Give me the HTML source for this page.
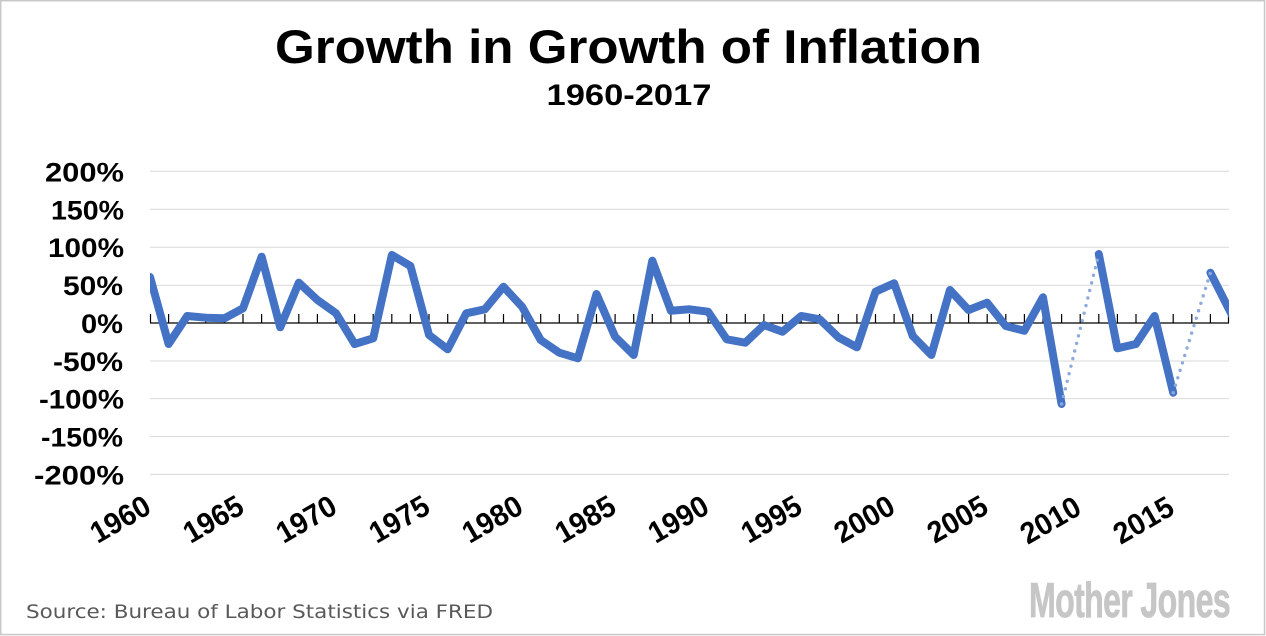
<!DOCTYPE html>
<html>
<head>
<meta charset="utf-8">
<style>
  html, body { margin: 0; padding: 0; background: #ffffff; }
  body { width: 1266px; height: 636px; overflow: hidden; }
  svg { display: block; }
</style>
</head>
<body>
<svg width="1266" height="636" viewBox="0 0 1266 636" xmlns="http://www.w3.org/2000/svg">
  <rect x="0" y="0" width="1266" height="636" fill="#ffffff"/>
  <rect x="0.75" y="0.75" width="1263.8" height="633.8" fill="none" stroke="#c8c8c8" stroke-width="1.5"/>

  <!-- Title -->
  <text x="628.5" y="63" text-anchor="middle" font-family="Liberation Sans, sans-serif" font-weight="bold" font-size="47" fill="#000" textLength="707" lengthAdjust="spacingAndGlyphs">Growth in Growth of Inflation</text>
  <text x="629" y="105" text-anchor="middle" font-family="Liberation Sans, sans-serif" font-weight="bold" font-size="30" fill="#000" textLength="165" lengthAdjust="spacingAndGlyphs">1960-2017</text>

  <!-- Gridlines -->
  <g stroke="#d9d9d9" stroke-width="1">
    <line x1="150" y1="171.3" x2="1229" y2="171.3"/>
    <line x1="150" y1="209.3" x2="1229" y2="209.3"/>
    <line x1="150" y1="247.2" x2="1229" y2="247.2"/>
    <line x1="150" y1="285.2" x2="1229" y2="285.2"/>
    <line x1="150" y1="361" x2="1229" y2="361"/>
    <line x1="150" y1="398.6" x2="1229" y2="398.6"/>
    <line x1="150" y1="436.5" x2="1229" y2="436.5"/>
    <line x1="150" y1="474.4" x2="1229" y2="474.4"/>
  </g>

  <!-- Y labels -->
  <g font-family="Liberation Sans, sans-serif" font-weight="bold" font-size="27" fill="#000" text-anchor="end">
    <text x="124" y="181.3" textLength="79" lengthAdjust="spacingAndGlyphs">200%</text>
    <text x="124" y="219.3" textLength="73" lengthAdjust="spacingAndGlyphs">150%</text>
    <text x="124" y="257.2" textLength="76" lengthAdjust="spacingAndGlyphs">100%</text>
    <text x="123" y="295.2" textLength="60" lengthAdjust="spacingAndGlyphs">50%</text>
    <text x="123" y="333" textLength="42" lengthAdjust="spacingAndGlyphs">0%</text>
    <text x="123" y="371" textLength="70" lengthAdjust="spacingAndGlyphs">-50%</text>
    <text x="124" y="408.6" textLength="85" lengthAdjust="spacingAndGlyphs">-100%</text>
    <text x="123" y="446.5" textLength="82" lengthAdjust="spacingAndGlyphs">-150%</text>
    <text x="124" y="484.4" textLength="90" lengthAdjust="spacingAndGlyphs">-200%</text>
  </g>

  <!-- Zero axis + ticks -->
  <line x1="150" y1="323" x2="1229" y2="323" stroke="#000" stroke-width="1.3"/>
  <path stroke="#000" stroke-width="1.2" fill="none" d="
    M150.5 314V323 M168.6 314V323 M187.2 314V323 M205.8 314V323 M224.4 314V323 M243 314V323
    M261.6 314V323 M280.2 314V323 M298.8 314V323 M317.4 314V323 M336 314V323 M354.6 314V323
    M373.2 314V323 M391.8 314V323 M410.4 314V323 M429 314V323 M447.7 314V323 M466.3 314V323
    M484.9 314V323 M503.5 314V323 M522.1 314V323 M540.7 314V323 M559.3 314V323 M577.9 314V323
    M596.5 314V323 M615.1 314V323 M633.7 314V323 M652.3 314V323 M670.9 314V323 M689.5 314V323
    M708.1 314V323 M726.7 314V323 M745.3 314V323 M763.9 314V323 M782.5 314V323 M801.1 314V323
    M819.7 314V323 M838.3 314V323 M856.9 314V323 M875.5 314V323 M894.1 314V323 M912.7 314V323
    M931.3 314V323 M950 314V323 M968.6 314V323 M987.2 314V323 M1005.8 314V323 M1024.4 314V323
    M1043 314V323 M1061.6 314V323 M1080.2 314V323 M1098.8 314V323 M1117.4 314V323 M1136 314V323
    M1154.6 314V323 M1173.2 314V323 M1191.8 314V323 M1210.4 314V323 M1228.5 314V323"/>

  <!-- Series -->
  <defs>
    <clipPath id="plot"><rect x="150" y="150" width="1079" height="340"/></clipPath>
  </defs>
  <g clip-path="url(#plot)" fill="none">
    <g stroke="#4472C4" stroke-width="8" stroke-linejoin="round" stroke-linecap="round">
      <polyline points="150,277 168.6,344 187.21,316 205.81,317.7 224.41,318.3 243.02,308.3 261.62,256.7 280.22,327.3 298.83,282.7 317.43,300 336.03,313.3 354.64,344 373.24,338.3 391.84,255 410.45,266 429.05,335 447.66,349.3 466.26,313.3 484.86,309.3 503.47,286.7 522.07,306.7 540.67,340 559.28,352.7 577.88,358.3 596.48,294 615.09,336.7 633.69,355 652.29,260.7 670.9,310.7 689.5,309.3 708.1,311.7 726.71,339.3 745.31,342.7 763.91,325 782.52,331.7 801.12,316 819.72,319.3 838.33,337.3 856.93,347.3 875.53,291.7 894.14,283.3 912.74,336 931.34,355 949.95,290 968.55,310 987.16,302.7 1005.76,326 1024.36,330.7 1042.97,297.3 1061.57,404"/>
      <polyline points="1098.78,254 1117.38,348.3 1135.98,344 1154.59,316 1173.19,392.7"/>
      <polyline points="1210.4,272.7 1229,309.3 1235,321"/>
    </g>
    <g stroke="#8eaadc" stroke-width="3.4" stroke-linecap="round" stroke-dasharray="0 7.8">
      <line x1="1061.57" y1="404" x2="1098.78" y2="254"/>
      <line x1="1173.19" y1="392.7" x2="1210.4" y2="272.7"/>
    </g>
  </g>

  <!-- X labels -->
  <g font-family="Liberation Sans, sans-serif" font-weight="bold" font-size="30" fill="#000" text-anchor="end">
    <text transform="translate(153,512) rotate(-30)" textLength="64" lengthAdjust="spacingAndGlyphs">1960</text>
    <text transform="translate(246,512) rotate(-30)" textLength="64" lengthAdjust="spacingAndGlyphs">1965</text>
    <text transform="translate(339,512) rotate(-30)" textLength="64" lengthAdjust="spacingAndGlyphs">1970</text>
    <text transform="translate(432,512) rotate(-30)" textLength="64" lengthAdjust="spacingAndGlyphs">1975</text>
    <text transform="translate(525.1,512) rotate(-30)" textLength="64" lengthAdjust="spacingAndGlyphs">1980</text>
    <text transform="translate(618.1,512) rotate(-30)" textLength="64" lengthAdjust="spacingAndGlyphs">1985</text>
    <text transform="translate(711.1,512) rotate(-30)" textLength="64" lengthAdjust="spacingAndGlyphs">1990</text>
    <text transform="translate(804.1,512) rotate(-30)" textLength="64" lengthAdjust="spacingAndGlyphs">1995</text>
    <text transform="translate(897.1,512) rotate(-30)" textLength="64" lengthAdjust="spacingAndGlyphs">2000</text>
    <text transform="translate(990.2,512) rotate(-30)" textLength="64" lengthAdjust="spacingAndGlyphs">2005</text>
    <text transform="translate(1083.2,513) rotate(-30)" textLength="64" lengthAdjust="spacingAndGlyphs">2010</text>
    <text transform="translate(1176.2,513) rotate(-30)" textLength="64" lengthAdjust="spacingAndGlyphs">2015</text>
  </g>

  <!-- Footer -->
  <text x="26" y="618" font-family="DejaVu Sans, Verdana, sans-serif" font-size="19" fill="#595959" textLength="467" lengthAdjust="spacingAndGlyphs">Source: Bureau of Labor Statistics via FRED</text>
  <text x="1029" y="617" font-family="Liberation Sans Narrow, Liberation Sans, sans-serif" font-weight="bold" font-size="49" fill="#c6c6c6" stroke="#c6c6c6" stroke-width="0.8" textLength="201" lengthAdjust="spacingAndGlyphs" letter-spacing="-1">Mother Jones</text>
</svg>
</body>
</html>
